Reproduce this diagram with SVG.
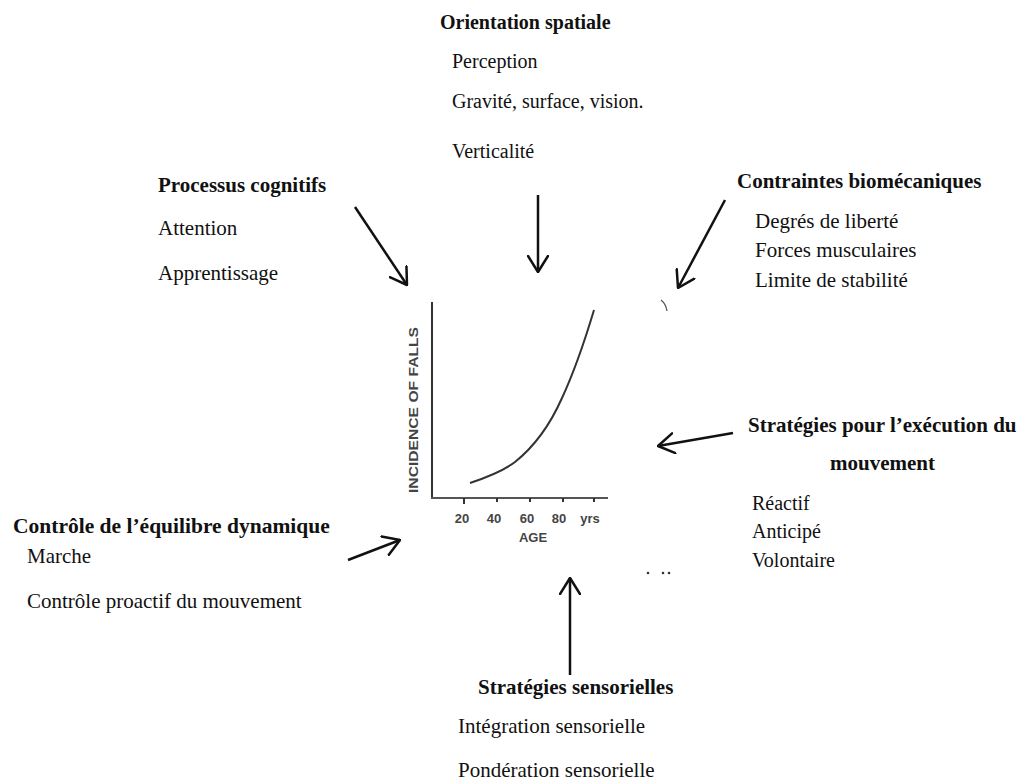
<svg xmlns="http://www.w3.org/2000/svg" width="1017" height="782" viewBox="0 0 1017 782">
<style>
text{font-family:"Liberation Serif","Times New Roman",serif;fill:#111;}
.h{font-weight:bold;font-size:21px;}
.b{font-size:21px;}
.s{font-size:20px;}
.c{font-family:"Liberation Sans",Arial,sans-serif;font-size:13px;font-weight:bold;fill:#444;}
.arr{stroke:#111;stroke-width:2.5;fill:none;marker-end:url(#ah);}
</style>
<defs>
<marker id="ah" viewBox="0 0 18 22" refX="17" refY="11" markerWidth="18" markerHeight="22" markerUnits="userSpaceOnUse" orient="auto">
<path d="M1,1 L17,11 L1,21" fill="none" stroke="#111" stroke-width="2.5" stroke-linecap="round" stroke-linejoin="round"/>
</marker>
</defs>
<rect width="1017" height="782" fill="#fff"/>

<g id="chart">
<line x1="432" y1="302" x2="432" y2="499" stroke="#333" stroke-width="2"/>
<line x1="431" y1="498" x2="608" y2="498" stroke="#555" stroke-width="2"/>
<g stroke="#333" stroke-width="2">
<line x1="464" y1="498" x2="464" y2="504"/>
<line x1="497" y1="498" x2="497" y2="502"/>
<line x1="530" y1="498" x2="530" y2="502"/>
<line x1="563" y1="498" x2="563" y2="502"/>
<line x1="594" y1="498" x2="594" y2="502"/>
</g>
<path d="M470,483 C485,478 502,472 515,462 C535,446 550,425 562,398 C575,370 585,340 594,310" fill="none" stroke="#333" stroke-width="2"/>
<text class="c" x="462" y="523" text-anchor="middle">20</text>
<text class="c" x="494" y="523" text-anchor="middle">40</text>
<text class="c" x="527" y="523" text-anchor="middle">60</text>
<text class="c" x="559" y="523" text-anchor="middle">80</text>
<text class="c" x="590" y="523" text-anchor="middle">yrs</text>
<text class="c" x="533" y="542" text-anchor="middle">AGE</text>
<text class="c" transform="translate(418,410) rotate(-90)" text-anchor="middle" textLength="166" lengthAdjust="spacingAndGlyphs">INCIDENCE OF FALLS</text>
</g>

<g id="connectors">
<line class="arr" x1="355" y1="207" x2="407" y2="285"/>
<line class="arr" x1="538" y1="195" x2="538" y2="272"/>
<line class="arr" x1="725" y1="200" x2="678" y2="288"/>
<line class="arr" x1="733" y1="433" x2="658" y2="446"/>
<line class="arr" x1="348" y1="560" x2="400" y2="540"/>
<line class="arr" x1="570" y1="675" x2="570" y2="578"/>
</g>

<g id="marks">
<path d="M661,300 Q666,304 667,311" fill="none" stroke="#555" stroke-width="1.3"/>
<circle cx="648" cy="573" r="1.3" fill="#333"/>
<circle cx="663" cy="573" r="1.3" fill="#333"/>
<circle cx="669" cy="573" r="1.3" fill="#333"/>
</g>

<g id="orientation">
<text class="h" x="440" y="29" style="font-size:20px">Orientation spatiale</text>
<text class="s" x="452" y="68">Perception</text>
<text class="s" x="452" y="108">Gravité, surface, vision.</text>
<text class="s" x="452" y="158">Verticalité</text>
</g>

<g id="cognitifs">
<text class="h" x="158" y="192">Processus cognitifs</text>
<text class="b" x="158" y="235">Attention</text>
<text class="b" x="158" y="280">Apprentissage</text>
</g>

<g id="biomecaniques">
<text class="h" x="737" y="188">Contraintes biomécaniques</text>
<text class="b" x="755" y="228">Degrés de liberté</text>
<text class="b" x="755" y="257">Forces musculaires</text>
<text class="b" x="755" y="287">Limite de stabilité</text>
</g>

<g id="execution">
<text class="h" x="748" y="432">Stratégies pour l’exécution du</text>
<text class="h" x="830" y="470">mouvement</text>
<text class="s" x="752" y="510">Réactif</text>
<text class="s" x="752" y="538">Anticipé</text>
<text class="s" x="752" y="567">Volontaire</text>
</g>

<g id="equilibre">
<text class="h" x="13" y="533" style="font-size:21.5px">Contrôle de l’équilibre dynamique</text>
<text class="b" x="27" y="563">Marche</text>
<text class="b" x="27" y="608">Contrôle proactif du mouvement</text>
</g>

<g id="sensorielles">
<text class="h" x="478" y="694">Stratégies sensorielles</text>
<text class="b" x="458" y="733">Intégration sensorielle</text>
<text class="b" x="458" y="777">Pondération sensorielle</text>
</g>
</svg>
